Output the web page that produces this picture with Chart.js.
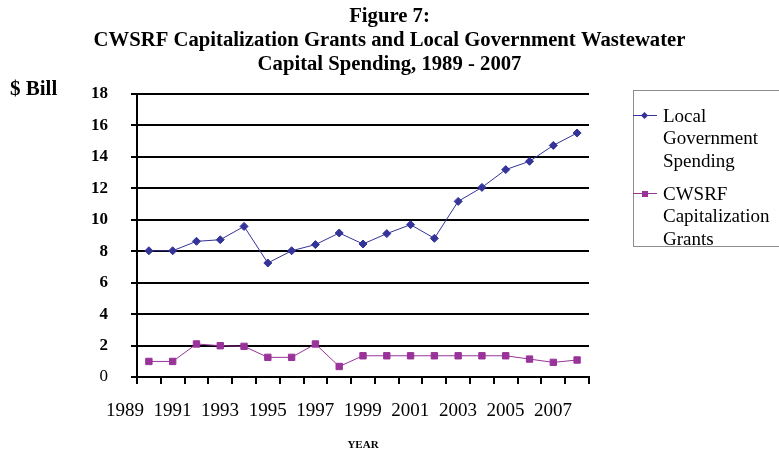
<!DOCTYPE html>
<html>
<head>
<meta charset="utf-8">
<script src="https://cdn.jsdelivr.net/npm/chart.js@4/dist/chart.umd.min.js"></script>
<style>
  html, body { margin: 0; padding: 0; background: #fff; overflow: hidden; }
  #wrap { position: relative; width: 779px; height: 452px; }
  #legend {
    position: absolute; left: 633px; top: 90px; width: 160px; height: 157px;
    border: 1px solid #8c8c8c; box-sizing: border-box;
    font-family: "Liberation Serif", "Times New Roman", serif; font-size: 19px; line-height: 22.5px; color: #000;
  }
  .item { position: absolute; left: 0; }
  .swatch { position: absolute; left: -1px; top: 10px; width: 24px; height: 1px; }
  .mark { position: absolute; }
  .txt { position: absolute; left: 29px; top: 0; width: 112px; }
</style>
</head>
<body>
<div id="wrap">
  <canvas id="fig7" width="779" height="452"></canvas>
  <div id="legend"></div>
</div>
<script>
const years = ['1989','1990','1991','1992','1993','1994','1995','1996','1997','1998',
               '1999','2000','2001','2002','2003','2004','2005','2006','2007'];
const localSpending = [8.03, 8.03, 8.63, 8.73, 9.58, 7.25, 8.03, 8.42, 9.16, 8.46,
                       9.12, 9.69, 8.82, 11.17, 12.06, 13.19, 13.72, 14.73, 15.52];
const capGrants = [0.99, 0.99, 2.10, 1.99, 1.95, 1.25, 1.25, 2.10, 0.67, 1.35,
                   1.35, 1.35, 1.35, 1.35, 1.35, 1.35, 1.14, 0.93, 1.08];
const yTicks = [0, 2, 4, 6, 8, 10, 12, 14, 16, 18];

const serif = '"Liberation Serif", "Times New Roman", serif';
const navy = '#333399';
const purple = '#993399';

// "$ Bill" unit label above the value axis
const unitLabel = {
  id: 'unitLabel',
  afterDraw(chart) {
    const ctx = chart.ctx;
    ctx.save();
    ctx.font = 'bold 21px ' + serif;
    ctx.fillStyle = '#000';
    ctx.textBaseline = 'alphabetic';
    ctx.fillText('$ Bill', 10, 95);
    ctx.restore();
  }
};

const chart = new Chart(document.getElementById('fig7'), {
  type: 'line',
  data: {
    labels: years,
    datasets: [{
      label: 'Local Government Spending',
      data: localSpending,
      borderColor: navy,
      backgroundColor: navy,
      borderWidth: 1,
      pointStyle: 'rectRot',
      pointRadius: 4,
      tension: 0
    }, {
      label: 'CWSRF Capitalization Grants',
      data: capGrants,
      borderColor: purple,
      backgroundColor: purple,
      borderWidth: 1,
      pointStyle: 'rect',
      pointRadius: 4.5,
      tension: 0
    }]
  },
  options: {
    responsive: false,
    animation: false,
    layout: { padding: 0 },
    plugins: {
      legend: { display: false },
      tooltip: { enabled: false },
      title: {
        display: true,
        text: ['Figure 7:', 'CWSRF Capitalization Grants and Local Government Wastewater', 'Capital Spending, 1989 - 2007'],
        color: '#000',
        font: { family: serif, size: 20.7, weight: 'bold', lineHeight: '24px' },
        padding: { top: 5, bottom: 17 }
      }
    },
    scales: {
      x: {
        type: 'category',
        offset: true,
        afterFit: (axis) => { axis.height = 75; },
        grid: {
          offset: true,
          drawOnChartArea: false,
          color: '#000',
          lineWidth: 2,
          tickLength: 7
        },
        border: { color: '#000', width: 2 },
        ticks: {
          autoSkip: false,
          maxRotation: 0,
          color: '#000',
          font: { family: serif, size: 19 },
          padding: 16,
          labelOffset: -24,
          callback: function (value, index) {
            return index % 2 === 0 ? this.getLabelForValue(value) : '';
          }
        },
        title: {
          display: true,
          text: 'YEAR',
          color: '#000',
          font: { family: serif, size: 11, weight: 'bold' },
          padding: { top: 14, bottom: 0 }
        }
      },
      y: {
        min: 0,
        max: 18,
        afterBuildTicks: (axis) => { axis.ticks = yTicks.map(v => ({ value: v })); },
        afterFit: (axis) => { axis.width = 137; },
        grid: { color: '#000', lineWidth: 2, tickLength: 6 },
        border: { color: '#000', width: 2 },
        ticks: {
          color: '#000',
          padding: 23,
          font: (c) => ({ family: serif, size: 17, weight: c.tick && c.tick.value === 0 ? 'normal' : 'bold' })
        }
      },
      // empty right-hand axis keeping room for the legend box
      side: {
        position: 'right',
        display: true,
        grid: { display: false },
        border: { display: false },
        ticks: { display: false },
        afterFit: (axis) => { axis.width = 190; }
      }
    }
  },
  plugins: [unitLabel]
});

// legend box built from the chart's datasets
const legendBox = document.getElementById('legend');
const itemTops = [13.75, 91.75];
chart.data.datasets.forEach((ds, i) => {
  const item = document.createElement('div');
  item.className = 'item';
  item.style.top = itemTops[i] + 'px';
  const sw = document.createElement('div');
  sw.className = 'swatch';
  sw.style.background = ds.borderColor;
  const mk = document.createElement('div');
  mk.className = 'mark';
  mk.style.background = ds.backgroundColor;
  if (ds.pointStyle === 'rectRot') {
    mk.style.cssText += 'left:8px;top:8px;width:5px;height:5px;transform:rotate(45deg);';
  } else {
    mk.style.cssText += 'left:8px;top:8px;width:6px;height:6px;';
  }
  const tx = document.createElement('div');
  tx.className = 'txt';
  tx.textContent = ds.label;
  item.appendChild(sw);
  item.appendChild(mk);
  item.appendChild(tx);
  legendBox.appendChild(item);
});
</script>
</body>
</html>
